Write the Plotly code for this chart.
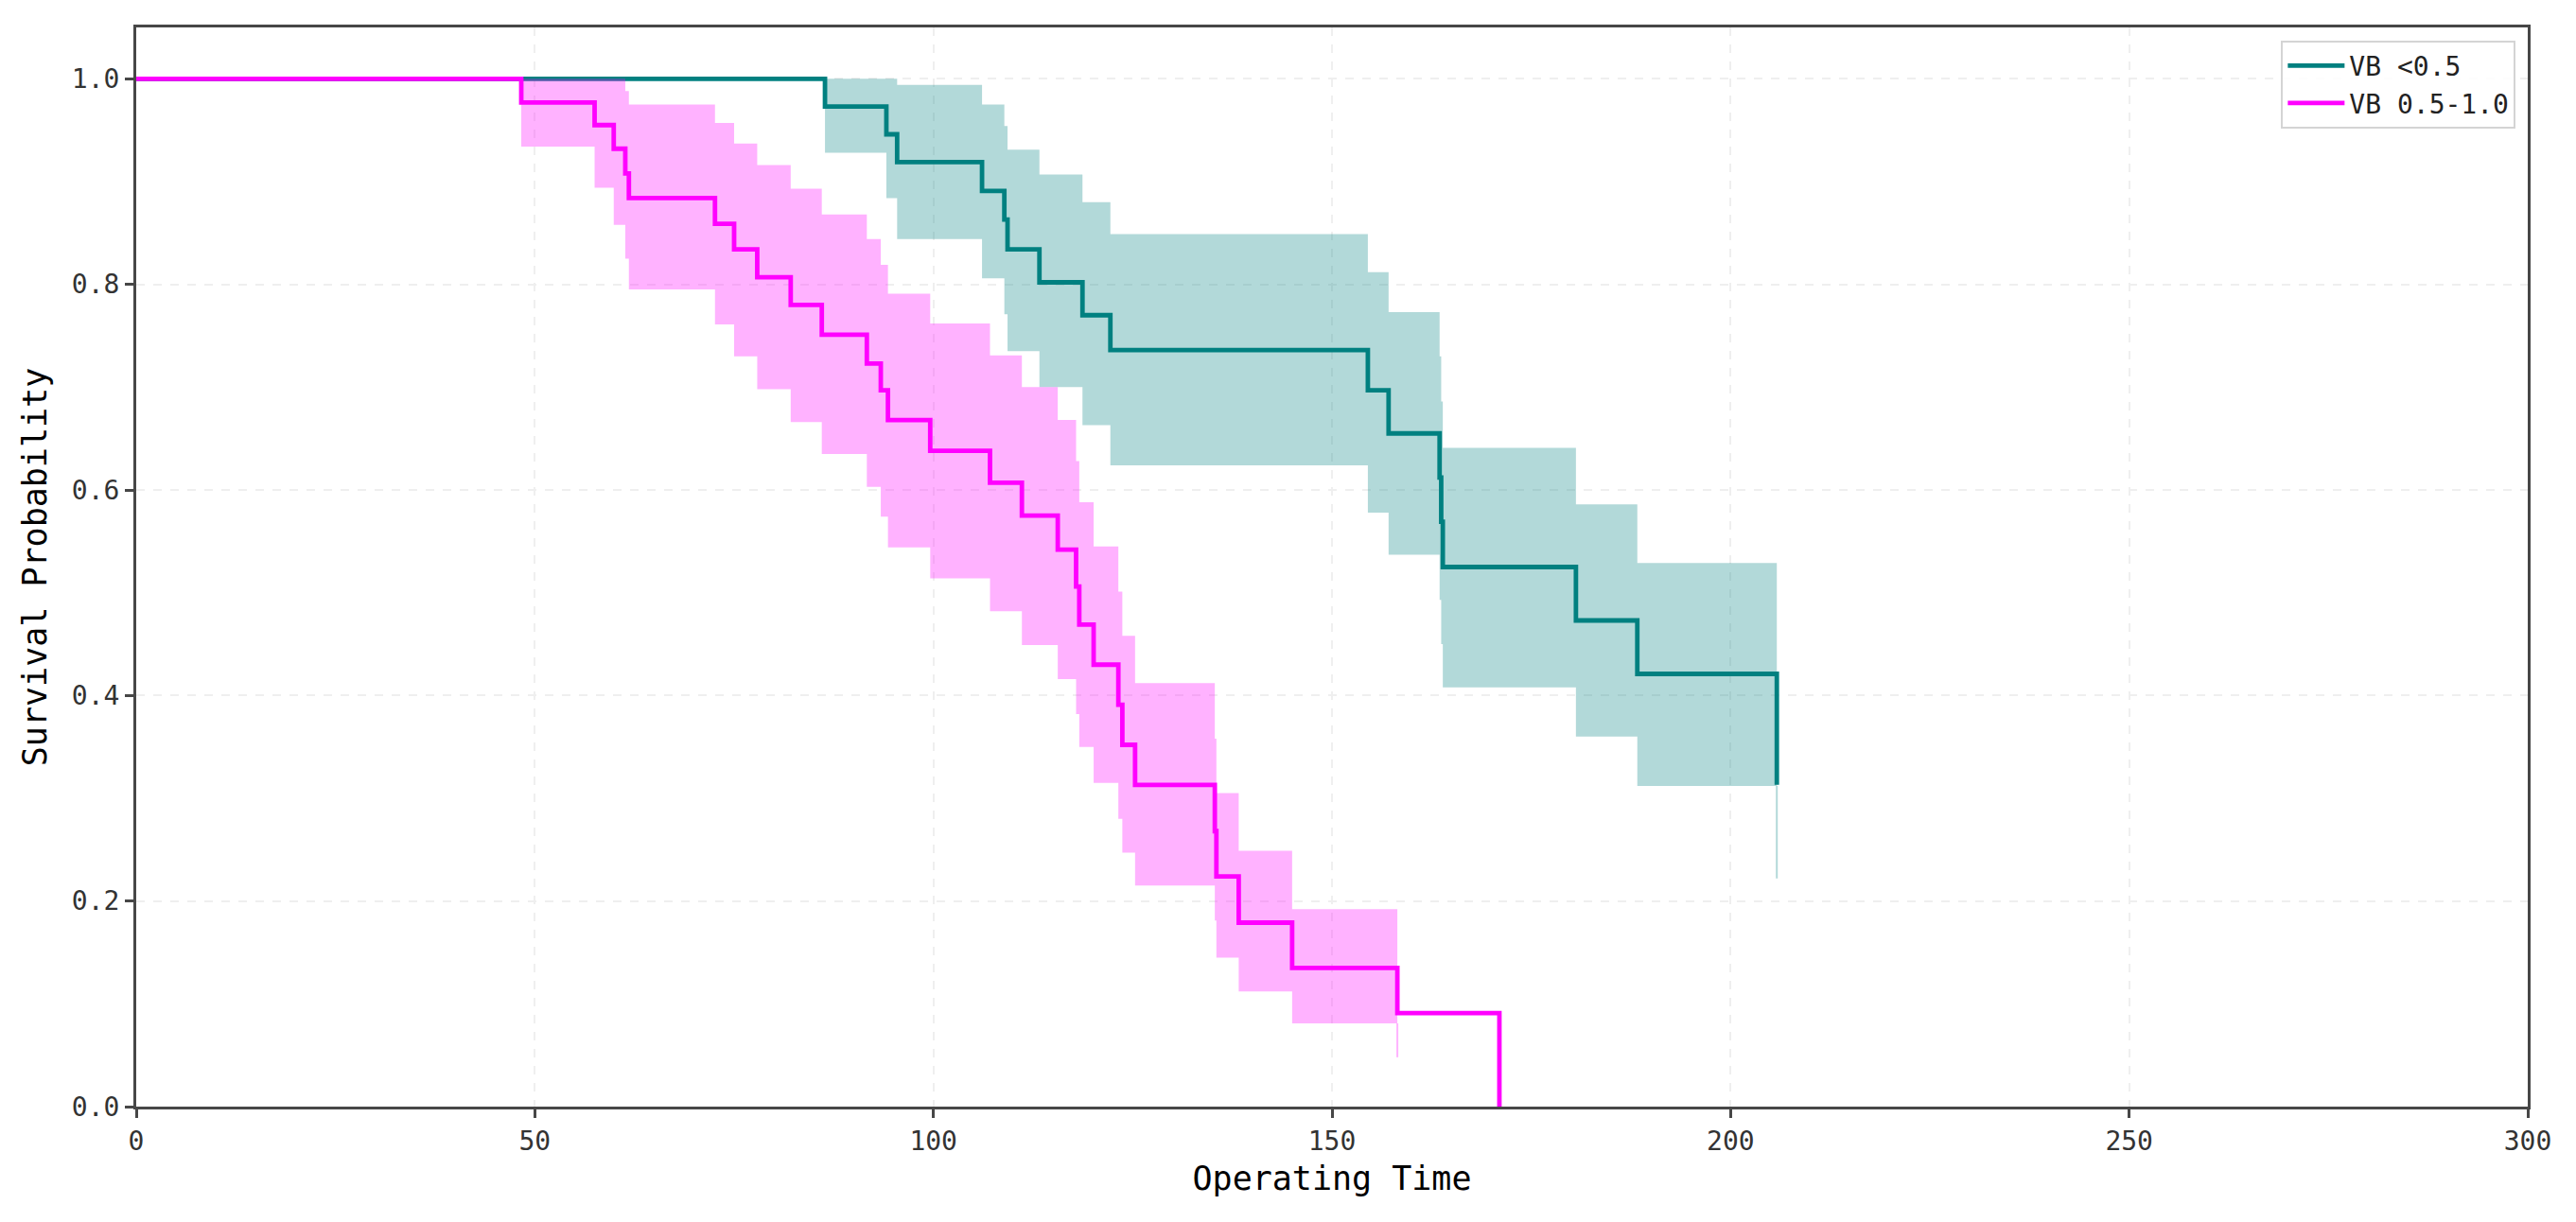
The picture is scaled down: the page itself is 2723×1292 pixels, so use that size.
import plotly.graph_objects as go

# ---- data (Kaplan-Meier steps with CI) ----
teal_time = [0, 86.4, 94.1, 95.45, 106.1, 108.9, 109.3, 113.3, 118.7, 122.2, 154.5, 157.1,
             163.5, 163.7, 163.9, 180.6, 188.3, 205.8]
teal_surv = [1.0, 0.973, 0.946, 0.919, 0.891, 0.863, 0.834, 0.802, 0.770, 0.736, 0.697, 0.655,
             0.612, 0.569, 0.525, 0.473, 0.421, 0.313]
teal_upper = [1.0, 1.0, 1.0, 0.994, 0.975, 0.954, 0.931, 0.907, 0.880, 0.849, 0.812, 0.773,
              0.730, 0.686, 0.641, 0.586, 0.529, 0.43]
teal_lower = [1.0, 0.928, 0.884, 0.844, 0.806, 0.771, 0.735, 0.700, 0.663, 0.624, 0.578, 0.537,
              0.493, 0.450, 0.408, 0.360, 0.312, 0.222]

pink_time = [0, 48.3, 57.5, 59.9, 61.35, 61.8, 72.6, 75.0, 77.9, 82.1, 86.0, 91.65, 93.4, 94.3,
             99.6, 107.1, 111.1, 115.6, 117.9, 118.3, 120.1, 123.2, 123.7, 125.3, 135.3, 135.5,
             138.3, 145.0, 158.2, 171.0]
pink_surv = [1.0, 0.977, 0.955, 0.932, 0.908, 0.884, 0.859, 0.834, 0.807, 0.780, 0.751, 0.723,
             0.697, 0.668, 0.638, 0.607, 0.575, 0.542, 0.506, 0.469, 0.430, 0.391, 0.352, 0.313,
             0.268, 0.224, 0.179, 0.135, 0.091, 0.0]
pink_upper = [1.0, 1.0, 1.0, 1.0, 0.988, 0.975, 0.957, 0.937, 0.916, 0.893, 0.868, 0.844, 0.819,
              0.791, 0.762, 0.731, 0.700, 0.668, 0.628, 0.588, 0.545, 0.501, 0.458, 0.412, 0.358,
              0.305, 0.249, 0.192, 0.14]
pink_lower = [1.0, 0.934, 0.894, 0.858, 0.825, 0.795, 0.761, 0.730, 0.698, 0.666, 0.635, 0.603,
              0.574, 0.544, 0.514, 0.482, 0.449, 0.416, 0.382, 0.350, 0.315, 0.280, 0.247, 0.215,
              0.181, 0.145, 0.112, 0.081, 0.048]

x_ticks = [0, 50, 100, 150, 200, 250, 300]
y_ticks = [0.0, 0.2, 0.4, 0.6, 0.8, 1.0]

series = [
    ("VB <0.5", teal_time, teal_surv, teal_upper, teal_lower, "#008080", "rgba(0,128,128,0.3)"),
    ("VB 0.5-1.0", pink_time, pink_surv, pink_upper, pink_lower, "#ff00ff", "rgba(255,0,255,0.3)"),
]

MONO = "DejaVu Sans Mono"
fig = go.Figure()

for name, t, s, up, lo, col, fillcol in series:
    tb = t[:len(up)]
    fig.add_trace(go.Scatter(x=tb, y=up, mode="lines", line=dict(width=0, shape="hv", color=fillcol),
                             showlegend=False, hoverinfo="skip"))
    fig.add_trace(go.Scatter(x=tb, y=lo, mode="lines", line=dict(width=0, shape="hv", color=fillcol),
                             fill="tonexty", fillcolor=fillcol, showlegend=False, hoverinfo="skip"))
    # zero-width CI at the final event (thin vertical sliver)
    fig.add_trace(go.Scatter(x=[tb[-1], tb[-1]], y=[lo[-2], lo[-1]], mode="lines",
                             line=dict(width=2, color=fillcol), showlegend=False, hoverinfo="skip"))
    fig.add_trace(go.Scatter(x=t, y=s, mode="lines", name=name,
                             line=dict(width=4.8, shape="hv", color=col)))

axis_common = dict(
    showline=True, mirror=True, linecolor="#474747", linewidth=3,
    ticks="outside", ticklen=9, tickwidth=2.5, tickcolor="#474747",
    showgrid=True, gridcolor="#efefef", griddash="dash", gridwidth=1.5,
    zeroline=False,
    tickfont=dict(family=MONO, size=28, color="#333333"),
)

fig.update_layout(
    width=2715, height=1284,
    paper_bgcolor="white", plot_bgcolor="white",
    margin=dict(l=136, r=51, t=21, b=122, autoexpand=False),
    xaxis=dict(range=[0, 300], tickvals=x_ticks, ticktext=[str(v) for v in x_ticks],
               title=dict(text="Operating Time", font=dict(family=MONO, size=35, color="black"),
                          standoff=12),
               **axis_common),
    yaxis=dict(range=[0, 1.05], tickvals=y_ticks, ticktext=[f"{v:.1f}" for v in y_ticks],
               title=dict(text="Survival Probability", font=dict(family=MONO, size=35, color="black"),
                          standoff=16),
               **axis_common),
    legend=dict(x=0.995, y=0.988, xanchor="right", yanchor="top", traceorder="normal",
                bgcolor="rgba(255,255,255,0.85)", bordercolor="#d4d4d4", borderwidth=2,
                font=dict(family=MONO, size=28, color="#222222"), itemwidth=60,
                tracegroupgap=4),
    showlegend=True,
)

fig.write_html("out.html")
